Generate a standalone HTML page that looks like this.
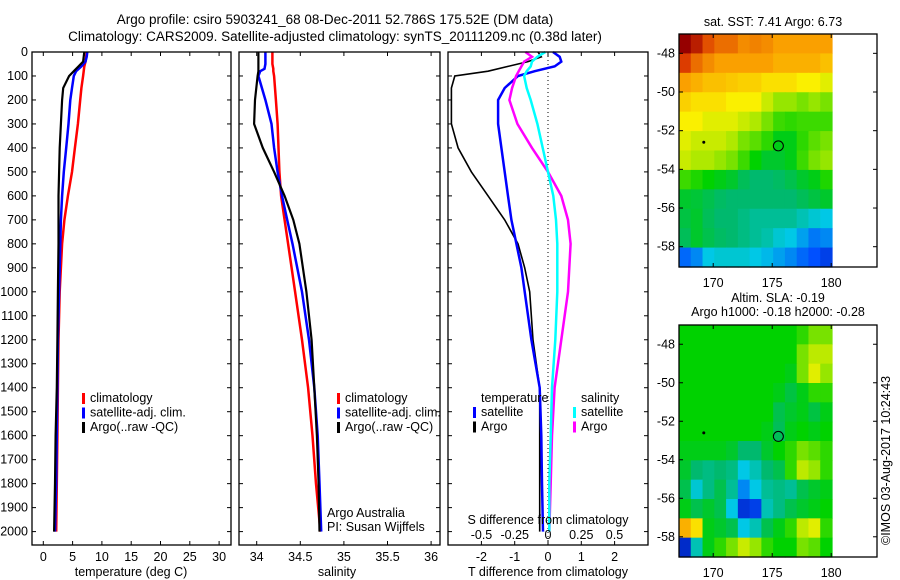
<!DOCTYPE html>
<html><head><meta charset="utf-8">
<style>
html,body{margin:0;padding:0;background:#fff;}
svg{display:block;font-family:"Liberation Sans",sans-serif;}
text{font-size:12.5px;fill:#000;}
</style></head>
<body>
<svg id="c" width="900" height="580" xmlns="http://www.w3.org/2000/svg">
<text x="335" y="24" text-anchor="middle" style="font-size:13.5px">Argo profile: csiro 5903241_68 08-Dec-2011 52.786S 175.52E (DM data)</text>
<text x="335" y="41" text-anchor="middle" style="font-size:13.5px">Climatology: CARS2009. Satellite-adjusted climatology: synTS_20111209.nc (0.38d later)</text>
<g id="g"></g>
</svg>
<script>
// ---------- data ----------
const tDepth=[0,20,40,60,80,100,150,200,300,400,500,600,700,800,1000,1200,1400,1600,1800,2000];
const tClim=[7.4,7.3,7.2,7.0,6.9,6.8,6.5,6.3,5.9,5.4,4.9,4.2,3.6,3.2,2.8,2.6,2.5,2.4,2.3,2.2];
const tSat=[7.5,7.4,7.2,6.5,5.6,5.2,4.9,4.6,4.3,3.9,3.5,3.2,3.0,2.9,2.7,2.5,2.4,2.3,2.2,2.0];
const tArgo=[7.0,6.9,6.8,6.0,5.2,4.4,3.4,3.2,3.0,2.8,2.7,2.6,2.6,2.6,2.5,2.4,2.3,2.1,2.0,1.85];
const sDepth=[0,50,70,80,100,200,300,400,500,600,700,800,1000,1200,1400,1600,1800,2000];
const sClim=[34.18,34.18,34.19,34.19,34.2,34.22,34.24,34.25,34.26,34.28,34.32,34.36,34.44,34.52,34.59,34.64,34.68,34.73];
const sSat=[34.1,34.1,34.09,34.04,34.02,34.1,34.17,34.2,34.24,34.29,34.35,34.41,34.52,34.6,34.66,34.7,34.72,34.74];
const sArgo=[34.02,34.02,34.02,34.02,34.01,33.98,33.97,34.07,34.2,34.32,34.42,34.49,34.57,34.63,34.66,34.69,34.71,34.72];
const dDepth=[0,20,40,60,80,100,150,200,300,400,500,600,700,800,900,1000,1200,1400,1600,1800,2000];
const dTArgo=[-0.3,-0.2,-0.6,-1.2,-1.8,-2.8,-2.9,-2.9,-2.9,-2.7,-2.3,-1.8,-1.3,-0.9,-0.7,-0.55,-0.45,-0.25,-0.25,-0.25,-0.25];
const dTSat=[0.15,0.35,0.4,0.2,-0.4,-0.9,-1.3,-1.5,-1.5,-1.4,-1.3,-1.2,-1.1,-0.95,-0.8,-0.7,-0.5,-0.25,-0.2,-0.18,-0.15];
const dSArgo=[-0.17,-0.12,-0.18,-0.2,-0.22,-0.24,-0.27,-0.29,-0.23,-0.12,0.0,0.1,0.15,0.17,0.16,0.15,0.1,0.05,0.03,0.02,0.01];
const dSSat=[-0.02,-0.08,-0.12,-0.13,-0.16,-0.18,-0.16,-0.13,-0.08,-0.04,0.0,0.04,0.06,0.07,0.07,0.07,0.055,0.03,0.02,0.01,0.01];
const depthTicks=[0,100,200,300,400,500,600,700,800,900,1000,1100,1200,1300,1400,1500,1600,1700,1800,1900,2000];
const tTicks=[0,5,10,15,20,25,30];
const sTicks=[34,34.5,35,35.5,36];
const sTickLabels=["34","34.5","35","35.5","36"];
const dTTicks=[-2,-1,0,1,2];
const dSTicks=[-0.5,-0.25,0,0.25,0.5];
const lonTicks=[170,175,180];
const latTicks=[-48,-50,-52,-54,-56,-58];
const sstGrid=[
[1,.95,.88,.85,.85,.82,.83,.82,.8,.8,.8,.8,.8],
[.9,.85,.82,.8,.8,.8,.8,.8,.78,.78,.78,.78,.76],
[.8,.78,.76,.76,.75,.74,.74,.72,.72,.72,.7,.7,.68],
[.74,.72,.72,.72,.7,.7,.7,.66,.62,.62,.6,.62,.6],
[.7,.7,.68,.68,.68,.66,.64,.6,.56,.55,.56,.56,.56],
[.68,.66,.66,.66,.64,.6,.58,.55,.5,.5,.55,.58,.6],
[.66,.64,.64,.62,.6,.56,.52,.48,.48,.5,.56,.6,.62],
[.56,.54,.52,.5,.48,.44,.42,.42,.43,.45,.48,.5,.54],
[.48,.47,.45,.43,.42,.42,.42,.42,.42,.42,.44,.46,.48],
[.46,.48,.44,.42,.42,.4,.38,.38,.38,.38,.35,.32,.3],
[.44,.48,.45,.43,.42,.4,.38,.36,.32,.3,.25,.2,.22],
[.18,.22,.3,.32,.32,.32,.3,.28,.25,.22,.18,.15,.12]];
const slaGrid=[
[.52,.52,.52,.52,.52,.52,.52,.52,.52,.52,.55,.6,.6],
[.52,.52,.52,.52,.52,.52,.52,.52,.52,.52,.6,.65,.65],
[.52,.52,.52,.52,.52,.52,.52,.52,.52,.5,.6,.68,.62],
[.52,.52,.52,.52,.52,.52,.52,.52,.5,.46,.5,.55,.55],
[.52,.52,.52,.52,.52,.52,.52,.52,.45,.48,.5,.46,.5],
[.52,.52,.52,.52,.52,.52,.52,.5,.44,.5,.52,.5,.52],
[.5,.5,.5,.5,.48,.42,.42,.48,.52,.55,.6,.58,.55],
[.48,.42,.4,.42,.4,.3,.35,.42,.45,.55,.65,.62,.55],
[.45,.32,.4,.45,.38,.22,.3,.38,.4,.38,.45,.48,.5],
[.5,.45,.48,.45,.3,.1,.12,.35,.4,.45,.48,.5,.52],
[.78,.72,.5,.48,.45,.3,.35,.45,.5,.55,.65,.68,.55],
[.08,.35,.5,.55,.6,.66,.62,.55,.52,.52,.6,.58,.52]];
const floatLon=175.52, floatLat=-52.786;

// ---------- helpers ----------
const NS="http://www.w3.org/2000/svg";
const G=document.getElementById('g');
function mk(tag,attrs,parent,txt){const e=document.createElementNS(NS,tag);for(const k in attrs)e.setAttribute(k,attrs[k]);if(txt!==undefined)e.textContent=txt;(parent||G).appendChild(e);return e;}
const yD=d=>52+d*0.2398;
const xT=v=>43.3+v*5.86;
const xS=v=>256.7+(v-34)*87.2;
const xDT=v=>548+v*33.3;
const xDS=v=>548+v*133;

function frame(x,y,w,h,name){const r=mk('rect',{x:x,y:y,width:w,height:h,fill:'none',stroke:'#000','stroke-width':1.3});

}
function line(xs,ds,fx,color,w,name){
 let p=xs.map((v,i)=>fx(v).toFixed(1)+','+yD(ds[i]).toFixed(1)).join(' ');
 const e=mk('polyline',{points:p,fill:'none',stroke:color,'stroke-width':w});
 
 }
function depthAxis(x0,x1,labels){
 depthTicks.forEach(d=>{const y=yD(d);
  mk('line',{x1:x0,y1:y,x2:x0+4,y2:y,stroke:'#000'});
  mk('line',{x1:x1,y1:y,x2:x1-4,y2:y,stroke:'#000'});
  if(labels){const t=mk('text',{x:x0-4,y:y+4,'text-anchor':'end'},G,String(d));
   
   }});}
function xAxis(ticks,fx,labels,y0,y1){
 ticks.forEach((v,i)=>{const x=fx(v);
  mk('line',{x1:x,y1:y1,x2:x,y2:y1-4,stroke:'#000'});
  mk('line',{x1:x,y1:y0,x2:x,y2:y0+4,stroke:'#000'});
  const t=mk('text',{x:x,y:y1+16,'text-anchor':'middle'},G,labels[i]);
  
  });}
function legend(x,y,items){items.forEach((it,i)=>{
 mk('rect',{x:x,y:y+i*14.5-9,width:3,height:11,fill:it[0]});
 const t=mk('text',{x:x+8,y:y+i*14.5},G,it[1]);
 
 });}

// ---------- panel 1: temperature ----------
depthAxis(32,231,true);
xAxis(tTicks,xT,tTicks.map(String),52,545);
line(tClim,tDepth,xT,'#f00',2.5,'temperature-climatology-line');
line(tSat,tDepth,xT,'#00f',2.5,'temperature-satellite-line');
line(tArgo,tDepth,xT,'#000',2.2,'temperature-argo-line');
frame(32,52,199,493,'temperature-panel');
legend(82,402,[['#f00','climatology'],['#00f','satellite-adj. clim.'],['#000','Argo(..raw -QC)']]);
let tx=mk('text',{x:131,y:576,'text-anchor':'middle'},G,'temperature (deg C)');



// ---------- panel 2: salinity ----------
depthAxis(239,440,false);
xAxis(sTicks,xS,sTickLabels,52,545);
line(sClim,sDepth,xS,'#f00',2.5,'salinity-climatology-line');
line(sSat,sDepth,xS,'#00f',2.5,'salinity-satellite-line');
line(sArgo,sDepth,xS,'#000',2.2,'salinity-argo-line');
frame(239,52,201,493,'salinity-panel');
legend(337,402,[['#f00','climatology'],['#00f','satellite-adj. clim.'],['#000','Argo(..raw -QC)']]);
tx=mk('text',{x:327,y:517},G,'Argo Australia');


tx=mk('text',{x:327,y:531},G,'PI: Susan Wijffels');


tx=mk('text',{x:337,y:576,'text-anchor':'middle'},G,'salinity');



// ---------- panel 3: differences ----------
depthAxis(448,648,false);
xAxis(dTTicks,xDT,dTTicks.map(String),52,545);
mk('line',{x1:548,y1:52,x2:548,y2:545,stroke:'#000','stroke-dasharray':'1,3'});
line(dTArgo,dDepth,xDT,'#000',1.6,'t-diff-argo-line');
line(dTSat,dDepth,xDT,'#00f',2.5,'t-diff-satellite-line');
line(dSArgo,dDepth,xDS,'#f0f',2.5,'s-diff-argo-line');
line(dSSat,dDepth,xDS,'#0ff',2.5,'s-diff-satellite-line');
frame(448,52,200,493,'difference-panel');
dSTicks.forEach(v=>{const t=mk('text',{x:xDS(v),y:539,'text-anchor':'middle'},G,String(v));
 
 });
tx=mk('text',{x:548,y:524,'text-anchor':'middle'},G,'S difference from climatology');


tx=mk('text',{x:548,y:576,'text-anchor':'middle'},G,'T difference from climatology');


tx=mk('text',{x:481,y:402},G,'temperature');


tx=mk('text',{x:581,y:402},G,'salinity');


legend(473,416,[['#00f','satellite'],['#000','Argo']]);
legend(573,416,[['#0ff','satellite'],['#f0f','Argo']]);

// ---------- maps ----------
const stops=[[0,[0,0,140]],[.15,[0,80,255]],[.3,[0,200,230]],[.42,[0,185,110]],[.52,[0,210,0]],[.62,[150,230,0]],[.7,[250,240,0]],[.8,[250,160,0]],[.9,[220,60,0]],[1,[150,0,0]]];
function cmap(v){for(let i=1;i<stops.length;i++){if(v<=stops[i][0]){const a=stops[i-1],b=stops[i],f=(v-a[0])/(b[0]-a[0]);
 return 'rgb('+a[1].map((c,k)=>Math.round(c+(b[1][k]-c)*f)).join(',')+')';}}return 'rgb(150,0,0)';}
function map(grid,top,bot,name,latTop){
 const L=679,R=877,dataR=832,lon0=167.1,lonScale=11.8;
 const latScale=(bot-top)/12.05;
 const xL=lon=>L+(lon-lon0)*lonScale;
 const yL=lat=>top+(latTop-lat)*latScale;
 const rows=grid.length,cols=grid[0].length,cw=(dataR-L)/cols,ch=(bot-top)/rows;
 grid.forEach((row,r)=>row.forEach((v,c)=>{const e=mk('rect',{x:L+c*cw,y:top+r*ch,width:cw+0.6,height:ch+0.6,fill:cmap(v)});
  
  }));
 lonTicks.forEach(v=>{const x=xL(v);mk('line',{x1:x,y1:top,x2:x,y2:top+4,stroke:'#000'});mk('line',{x1:x,y1:bot,x2:x,y2:bot-4,stroke:'#000'});
  const t=mk('text',{x:x,y:bot+20,'text-anchor':'middle'},G,String(v));
  
  });
 latTicks.forEach(v=>{const y=yL(v);mk('line',{x1:L,y1:y,x2:L+4,y2:y,stroke:'#000'});mk('line',{x1:R,y1:y,x2:R-4,y2:y,stroke:'#000'});
  const t=mk('text',{x:L-4,y:y+4,'text-anchor':'end'},G,String(v));
  
  });
 const m=mk('circle',{cx:xL(floatLon),cy:yL(floatLat),r:5,fill:'none',stroke:'#000','stroke-width':1});
 
 
 mk('circle',{cx:xL(169.2),cy:yL(-52.6),r:1.5,fill:'#000'});
 frame(L,top,R-L,bot-top,name);}
map(sstGrid,34,267,'sst-map',-47.0);
map(slaGrid,325,557,'sla-map',-47.0);
tx=mk('text',{x:773,y:26,'text-anchor':'middle'},G,'sat. SST: 7.41  Argo: 6.73');


tx=mk('text',{x:778,y:302,'text-anchor':'middle'},G,'Altim. SLA: -0.19');


tx=mk('text',{x:778,y:316,'text-anchor':'middle'},G,'Argo h1000: -0.18 h2000: -0.28');


tx=mk('text',{x:890,y:545,transform:'rotate(-90 890 545)'},G,'©IMOS 03-Aug-2017 10:24:43');


</script>
</body></html>
